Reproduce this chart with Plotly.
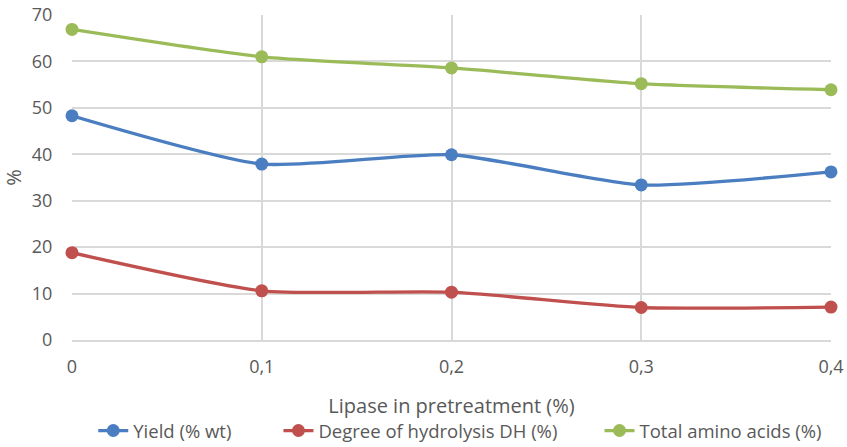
import plotly.graph_objects as go

x_vals = [0, 0.1, 0.2, 0.3, 0.4]
x_labels = ["0", "0,1", "0,2", "0,3", "0,4"]
yield_vals = [48.3, 37.9, 39.9, 33.4, 36.2]
dh_vals = [18.8, 10.6, 10.3, 7.0, 7.1]
taa_vals = [66.9, 61.0, 58.6, 55.2, 53.9]

series = [
    ("Yield (% wt)", yield_vals, "#4A7EC0", "legend", 0.028),
    ("Degree of hydrolysis DH (%)", dh_vals, "#C0504D", "legend2", 0.272),
    ("Total amino acids (%)", taa_vals, "#9BBB59", "legend3", 0.695),
]

font_family = "Open Sans, sans-serif"
grey = "#595959"

fig = go.Figure()
legends = {}
for name, vals, col, lg, lx in series:
    fig.add_trace(go.Scatter(
        x=x_vals, y=vals, name=name, mode="lines+markers",
        line=dict(color=col, width=3.3, shape="spline", smoothing=0.6),
        marker=dict(color=col, size=13),
        cliponaxis=False, legend=lg,
    ))
    legends[lg] = dict(orientation="h", x=lx, xanchor="left", y=-0.28, yanchor="middle",
                       font=dict(size=18.5, color=grey), bgcolor="rgba(0,0,0,0)")

fig.update_layout(
    width=847, height=447,
    margin=dict(l=72, r=16, t=15, b=107, autoexpand=False),
    plot_bgcolor="white", paper_bgcolor="white",
    font=dict(family=font_family, size=17, color=grey),
    showlegend=True,
    **legends,
    xaxis=dict(
        range=[0, 0.4], tickvals=x_vals, ticktext=x_labels,
        showgrid=True, gridcolor="#D9D9D9", gridwidth=1.5,
        showline=True, linecolor="#D9D9D9", linewidth=1.5,
        zeroline=False, ticks="outside", ticklen=10, tickcolor="rgba(0,0,0,0)",
        automargin=False,
        title=dict(text="Lipase in pretreatment (%)", font=dict(size=20, color=grey), standoff=22),
        tickfont=dict(size=18, color=grey),
    ),
    yaxis=dict(
        range=[0, 70], dtick=10,
        showgrid=True, gridcolor="#D9D9D9", gridwidth=1.5,
        zeroline=False, showline=False, ticks="outside", ticklen=15,
        tickcolor="rgba(0,0,0,0)", automargin=False,
        title=dict(text="%", font=dict(size=20, color=grey), standoff=6),
        tickfont=dict(size=18, color=grey),
    ),
)

fig.write_html("out.html")
